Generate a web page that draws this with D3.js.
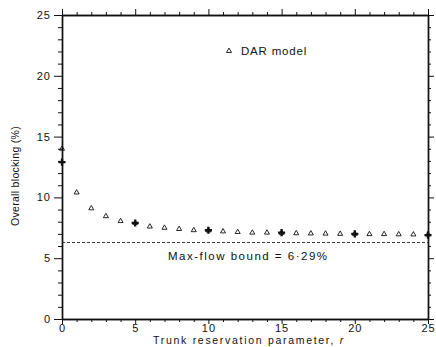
<!DOCTYPE html>
<html>
<head>
<meta charset="utf-8">
<script src="https://cdn.jsdelivr.net/npm/d3@7"></script>
<style>
	body { margin: 0; background: #fff; }
	svg text { font-family: 'Liberation Sans', Arial, sans-serif; fill: #111; }
</style>
</head>
<body>
<div id="chart"></div>
<script>
// DAR model values, r = 0..25
const rValues = d3.range(0, 26);
const darValues = [
	14.0, 10.4, 9.1, 8.45, 8.05, 7.9, 7.6, 7.5, 7.4, 7.3,
	7.28, 7.2, 7.15, 7.1, 7.1, 7.08, 7.05, 7.03, 7.02, 7.0,
	7.0, 6.98, 6.98, 6.96, 6.95, 6.95
];
// simulation points
const simR = [ 0, 5, 10, 15, 20, 25 ];
const simValues = [ 12.9, 7.9, 7.3, 7.1, 7.0, 6.9 ];
const maxFlowBound = 6.29;
const xTicks = [ 0, 5, 10, 15, 20, 25 ];
const yTicks = [ 0, 5, 10, 15, 20, 25 ];

const dimensions = {
	width  : 436,
	height : 347,
	margin : { top: 15, right: 8, bottom: 28, left: 62 }
};
dimensions.boundedWidth = dimensions.width - dimensions.margin.left - dimensions.margin.right;
dimensions.boundedHeight = dimensions.height - dimensions.margin.top - dimensions.margin.bottom;

const svg = d3.select('#chart').append('svg')
	.attr('width', dimensions.width)
	.attr('height', dimensions.height);

const bounds = svg.append('g')
	.attr('transform', `translate(${dimensions.margin.left}, ${dimensions.margin.top})`);

const x = d3.scaleLinear().domain([ 0, 25 ]).range([ 0, 366 ]);
const y = d3.scaleLinear().domain([ 0, 25 ]).range([ 304, 0 ]);

const minorX = d3.range(0, 26).filter((d) => d % 5 !== 0);
const minorY = d3.range(0, 26).filter((d) => d % 5 !== 0);

function styleAxis(g) {
	g.select('.domain').attr('stroke', '#111').attr('stroke-width', 1.4);
	g.selectAll('.tick line').attr('stroke', '#111').attr('stroke-width', 1);
	g.selectAll('.tick text').attr('font-size', '11px').attr('letter-spacing', '1px').attr('fill', '#111');
}

// bottom
bounds.append('g').attr('transform', 'translate(0,304)')
	.call(d3.axisBottom(x).tickValues(minorX).tickSize(3).tickFormat('').tickSizeOuter(0)).call(styleAxis);
bounds.append('g').attr('transform', 'translate(0,304)')
	.call(d3.axisBottom(x).tickValues(xTicks).tickSize(5).tickPadding(0).tickSizeOuter(0)).call(styleAxis);
// top
bounds.append('g')
	.call(d3.axisTop(x).tickValues(minorX).tickSize(3).tickFormat('').tickSizeOuter(0)).call(styleAxis);
bounds.append('g')
	.call(d3.axisTop(x).tickValues(xTicks).tickSize(6).tickFormat('').tickSizeOuter(0)).call(styleAxis);
// left
bounds.append('g')
	.call(d3.axisLeft(y).tickValues(minorY).tickSize(4).tickFormat('').tickSizeOuter(0)).call(styleAxis);
bounds.append('g')
	.call(d3.axisLeft(y).tickValues(yTicks).tickSize(8).tickPadding(3).tickSizeOuter(0)).call(styleAxis);
// right
bounds.append('g').attr('transform', 'translate(366,0)')
	.call(d3.axisRight(y).tickValues(minorY).tickSize(3).tickFormat('').tickSizeOuter(0)).call(styleAxis);
bounds.append('g').attr('transform', 'translate(366,0)')
	.call(d3.axisRight(y).tickValues(yTicks).tickSize(6).tickFormat('').tickSizeOuter(0)).call(styleAxis);

// max-flow bound
bounds.append('line')
	.attr('x1', x(0)).attr('x2', x(25))
	.attr('y1', y(maxFlowBound)).attr('y2', y(maxFlowBound))
	.attr('stroke', '#222').attr('stroke-width', 0.9)
	.attr('stroke-dasharray', '3,2');

bounds.append('text')
	.attr('x', 106).attr('y', y(maxFlowBound) + 17)
	.attr('font-size', '11.5px')
	.attr('letter-spacing', '1.5px')
	.text('Max-flow bound = 6\u00b729%');

// DAR triangles
const tri = d3.symbol().type(d3.symbolTriangle).size(11);
bounds.selectAll('.dar')
	.data(rValues.map((r, i) => ({ r: r, v: darValues[i] })))
	.enter().append('path')
	.attr('class', 'dar')
	.attr('d', tri)
	.attr('transform', (d) => `translate(${x(d.r)},${y(d.v)})`)
	.attr('fill', 'none')
	.attr('stroke', '#111')
	.attr('stroke-width', 0.9);

// simulation crosses
const cross = d3.symbol().type(d3.symbolCross).size(28);
bounds.selectAll('.sim')
	.data(simR.map((r, i) => ({ r: r, v: simValues[i] })))
	.enter().append('path')
	.attr('class', 'sim')
	.attr('d', cross)
	.attr('transform', (d) => `translate(${x(d.r)},${y(d.v)})`)
	.attr('fill', '#111');

// legend
const legend = svg.append('g').attr('transform', 'translate(229, 51)');
legend.append('path').attr('d', tri)
	.attr('fill', 'none').attr('stroke', '#111').attr('stroke-width', 0.9);
legend.append('text').attr('x', 12).attr('y', 4).attr('font-size', '11.5px')
	.attr('letter-spacing', '0.8px').text('DAR model');

// axis labels
svg.append('text')
	.attr('x', 249).attr('y', 343.5)
	.attr('text-anchor', 'middle')
	.attr('font-size', '10.5px')
	.attr('letter-spacing', '1.7px')
	.text('Trunk reservation parameter, ')
	.append('tspan').attr('font-style', 'italic').text('r');

svg.append('text')
	.attr('transform', 'translate(19, 176) rotate(-90)')
	.attr('text-anchor', 'middle')
	.attr('font-size', '10.5px')
	.attr('letter-spacing', '0.3px')
	.text('Overall blocking (%)');
</script>
</body>
</html>
